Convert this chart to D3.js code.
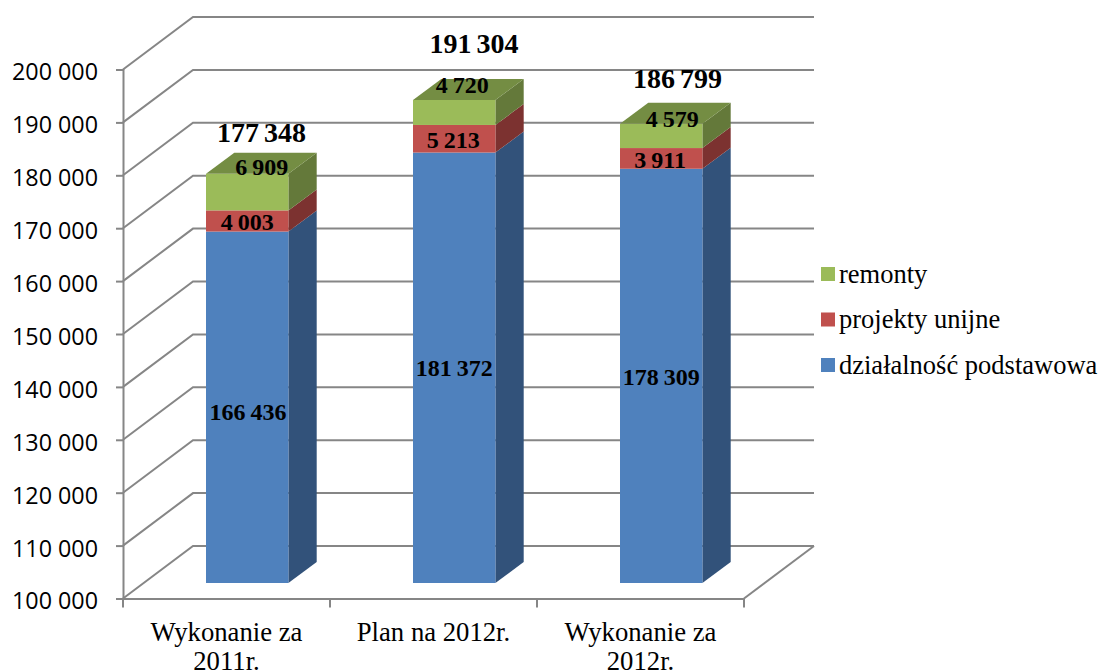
<!DOCTYPE html>
<html>
<head>
<meta charset="utf-8">
<script src="https://cdn.jsdelivr.net/npm/d3@7/dist/d3.min.js"></script>
<style>
  html, body { margin: 0; padding: 0; background: #FFFFFF; overflow: hidden; }
  svg { display: block; }
</style>
</head>
<body>
<div id="chart"></div>
<script>
const categories = [['Wykonanie za', '2011r.'], ['Plan na 2012r.'], ['Wykonanie za', '2012r.']]
const categoryKeys = ['2011', 'plan', '2012']
const dzialalnosc = [166436, 181372, 178309]
const projekty = [4003, 5213, 3911]
const remonty = [6909, 4720, 4579]
const totals = [177348, 191304, 186799]
const yTicks = [100000, 110000, 120000, 130000, 140000, 150000, 160000, 170000, 180000, 190000, 200000]
const seriesNames = ['działalność podstawowa', 'projekty unijne', 'remonty']
const seriesValues = [dzialalnosc, projekty, remonty]
const frontColors = ['#4F81BD', '#C0504D', '#9BBB59']
const sideColors = ['#32527A', '#7C3230', '#64793A']
const topColor = '#748D43'

const width = 1099
const height = 672
const serif = '"Liberation Serif", "Times New Roman", serif'
const sans = '"Open Sans", Arial, sans-serif'
const grey = '#868686'

// oblique offset of the back wall, and of the bars inside the floor
const depth = { x: 70, y: -52.5 }
const barShift = { x: 20.7, y: -15.5 }
const barDepth = { x: 28.3, y: -21 }

// labels were dragged by hand in the original, per series then per bar: [dx, dy]
const segmentNudge = [
  [[0.8, 4.7], [0, 0.7], [0, 1]],
  [[0, 1], [-1, 1.7], [-1, 1.7]],
  [[14.5, -25], [8, -27.5], [11, -17]],
]
const totalNudge = [[14.3, -32], [19.8, -47], [16.3, -36]]

const fmt = v => d3.format(',')(v).replace(/,/g, ' ')

const x = d3.scaleBand()
  .domain(categoryKeys)
  .range([123, 744])
  .paddingInner(0)

const y = d3.scaleLinear()
  .domain([100000, 200000])
  .range([598.5, 69.5])

const svg = d3.select('#chart').append('svg')
  .attr('width', width)
  .attr('height', height)

// ---- Gridlines ----
const grid = svg.append('g').attr('class', 'gridlines')
  .attr('fill', 'none').attr('stroke', grey).attr('stroke-width', 2)

grid.selectAll('path')
  .data(yTicks)
  .join('path')
  .attr('d', d => {
    const p = d3.path()
    p.moveTo(x.range()[0], y(d))
    p.lineTo(x.range()[0] + depth.x, y(d) + depth.y)
    p.lineTo(x.range()[1] + depth.x, y(d) + depth.y)
    return p.toString()
  })

// right edge of the floor
grid.append('line')
  .attr('x1', x.range()[1])
  .attr('y1', y(100000))
  .attr('x2', x.range()[1] + depth.x)
  .attr('y2', y(100000) + depth.y)

// ---- Axes ----
const axisLeft = svg.append('g')
  .attr('class', 'y-axis')
  .attr('transform', `translate(${x.range()[0]},0)`)
  .call(d3.axisLeft(y).tickValues(yTicks).tickSize(7).tickPadding(18).tickFormat(fmt))

const axisBottom = svg.append('g')
  .attr('class', 'x-axis')
  .attr('transform', `translate(0,${y(100000)})`)
  .call(d3.axisBottom(x).tickSize(0).tickFormat(''))

axisBottom.selectAll('.edge-tick')
  .data([0, 1, 2, 3])
  .join('line')
  .attr('class', 'edge-tick')
  .attr('x1', d => x.range()[0] + d * x.step())
  .attr('x2', d => x.range()[0] + d * x.step())
  .attr('y1', 0)
  .attr('y2', 9)

svg.selectAll('.domain, .tick line, .edge-tick')
  .attr('stroke', grey)
  .attr('stroke-width', 2)

axisLeft.selectAll('.tick text')
  .attr('fill', '#000000')
  .attr('font-size', '23.3px')
  .attr('font-family', sans)
  .attr('y', 3)

// ---- Bars ----
const bandGap = 62.3
const barWidth = x.bandwidth() - 2 * bandGap

function barX(key) {
  return x(key) + bandGap + barShift.x
}

const stacked = categoryKeys.map((key, i) => {
  let acc = 0
  return seriesValues.map((vals, s) => {
    const start = acc
    acc += vals[i]
    return { key, i, s, start, end: acc, value: vals[i] }
  })
})

const bars = svg.append('g').attr('class', 'bars')

const barGroups = bars.selectAll('g')
  .data(stacked)
  .join('g')

const yBase = v => y(Math.max(v, 100000)) + barShift.y

// side faces
barGroups.selectAll('.side')
  .data(d => d)
  .join('path')
  .attr('class', 'side')
  .attr('fill', d => sideColors[d.s])
  .attr('d', d => {
    const xr = barX(d.key) + barWidth
    const p = d3.path()
    p.moveTo(xr, yBase(d.start))
    p.lineTo(xr + barDepth.x, yBase(d.start) + barDepth.y)
    p.lineTo(xr + barDepth.x, yBase(d.end) + barDepth.y)
    p.lineTo(xr, yBase(d.end))
    p.closePath()
    return p.toString()
  })

// front faces
barGroups.selectAll('.front')
  .data(d => d)
  .join('rect')
  .attr('class', 'front')
  .attr('fill', d => frontColors[d.s])
  .attr('x', d => barX(d.key))
  .attr('width', barWidth)
  .attr('y', d => yBase(d.end))
  .attr('height', d => yBase(d.start) - yBase(d.end))

// top face of the stack
barGroups.append('path')
  .attr('class', 'top')
  .attr('fill', topColor)
  .attr('d', d => {
    const last = d[d.length - 1]
    const xl = barX(last.key)
    const yt = yBase(last.end)
    const p = d3.path()
    p.moveTo(xl, yt)
    p.lineTo(xl + barDepth.x, yt + barDepth.y)
    p.lineTo(xl + barWidth + barDepth.x, yt + barDepth.y)
    p.lineTo(xl + barWidth, yt)
    p.closePath()
    return p.toString()
  })

// ---- Value labels ----
const labelG = svg.append('g').attr('class', 'labels')
  .attr('font-family', serif)
  .attr('font-weight', 'bold')
  .attr('text-anchor', 'middle')
  .attr('fill', '#000000')

labelG.selectAll('.segment-label')
  .data(stacked.flat())
  .join('text')
  .attr('class', 'segment-label')
  .attr('font-size', '24px')
  .attr('word-spacing', '-1px')
  .attr('x', d => barX(d.key) + barWidth / 2 + segmentNudge[d.s][d.i][0])
  .attr('y', d => (yBase(d.start) + yBase(d.end)) / 2 + 8 + segmentNudge[d.s][d.i][1])
  .text(d => fmt(d.value))

labelG.selectAll('.total-label')
  .data(totals)
  .join('text')
  .attr('class', 'total-label')
  .attr('font-size', '28px')
  .attr('word-spacing', '-2px')
  .attr('x', (d, i) => barX(categoryKeys[i]) + barWidth / 2 + totalNudge[i][0])
  .attr('y', (d, i) => yBase(d) + totalNudge[i][1])
  .text(d => fmt(d))

// ---- Category labels ----
const catLabels = svg.append('g').attr('class', 'category-labels')
  .attr('font-family', serif)
  .attr('font-size', '26.7px')
  .attr('text-anchor', 'middle')
  .attr('fill', '#000000')

catLabels.selectAll('text')
  .data(categories)
  .join('text')
  .attr('x', (d, i) => x(categoryKeys[i]) + x.bandwidth() / 2)
  .attr('y', 641)
  .selectAll('tspan')
  .data(d => d)
  .join('tspan')
  .attr('x', function () { return d3.select(this.parentNode).attr('x') })
  .attr('dy', (d, i) => (i ? 29 : 0))
  .text(d => d)

// ---- Legend ----
const legendY = d3.scalePoint()
  .domain(['remonty', 'projekty unijne', 'działalność podstawowa'])
  .range([274, 365])

const legend = svg.append('g').attr('class', 'legend')
  .selectAll('g')
  .data(legendY.domain())
  .join('g')
  .attr('transform', d => `translate(821,${legendY(d)})`)

legend.append('rect')
  .attr('y', -7)
  .attr('width', 14)
  .attr('height', 14)
  .attr('fill', d => frontColors[seriesNames.indexOf(d)])

legend.append('text')
  .attr('x', 18)
  .attr('y', 8.5)
  .attr('font-family', serif)
  .attr('font-size', '26.5px')
  .attr('fill', '#000000')
  .text(d => d)
</script>
</body>
</html>
